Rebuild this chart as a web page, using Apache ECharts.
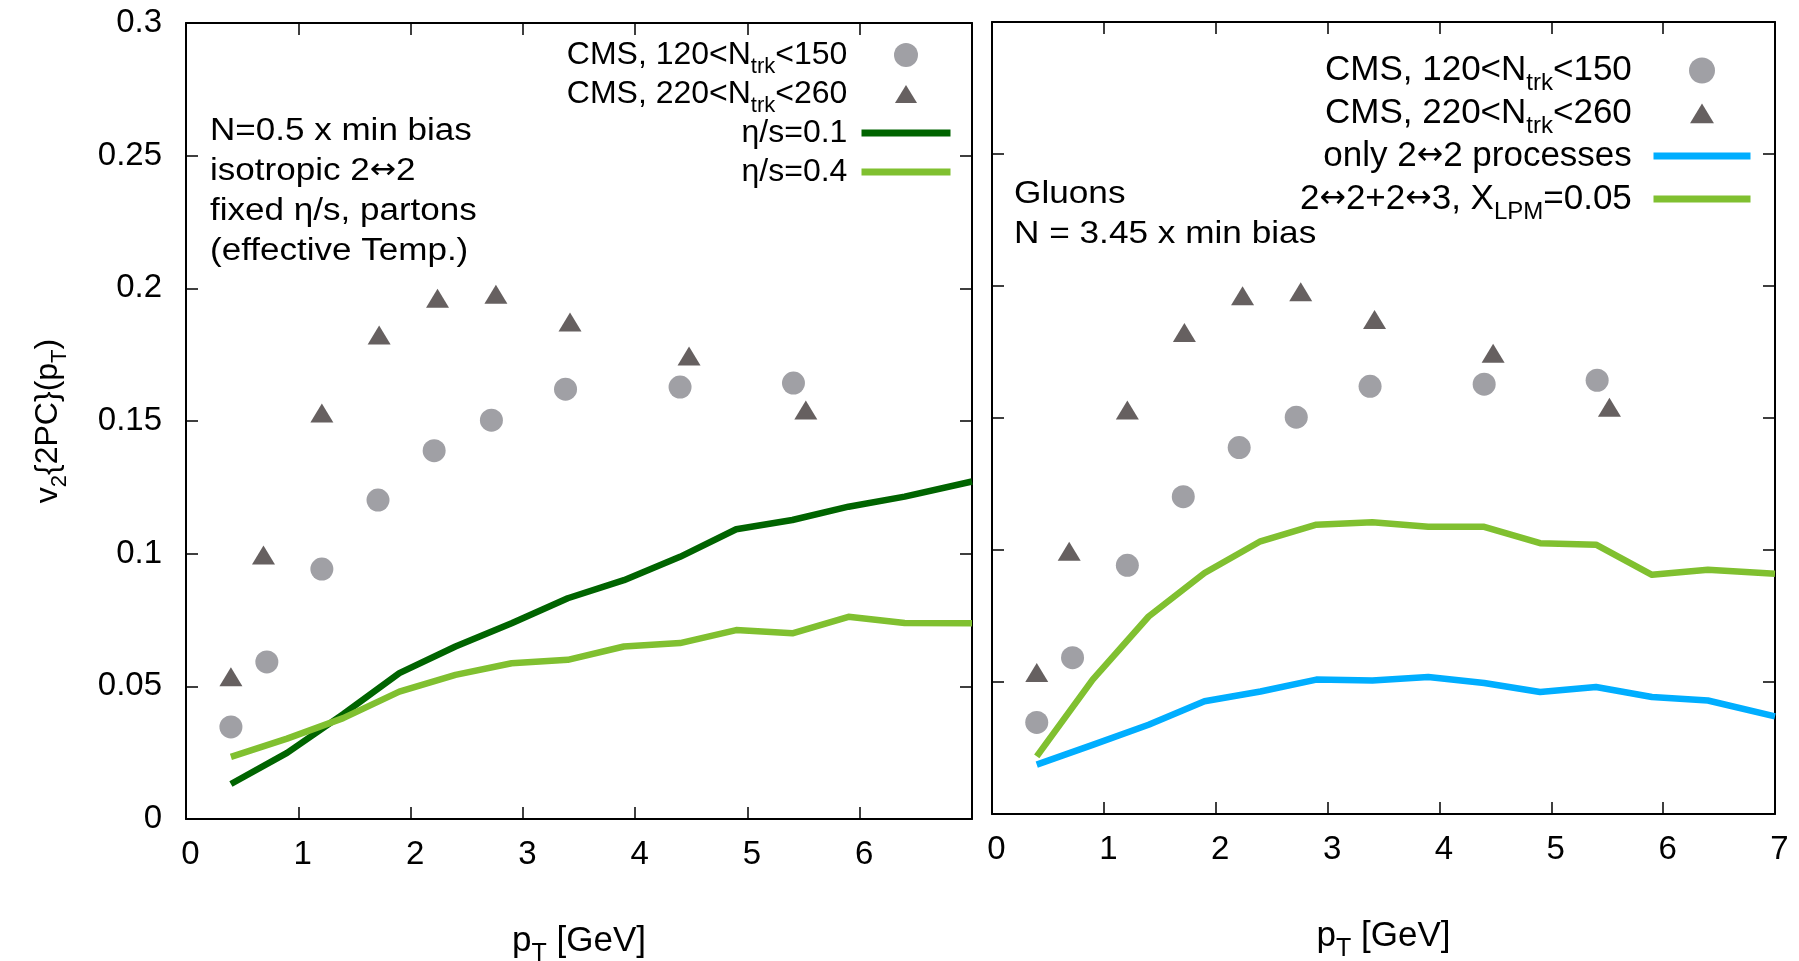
<!DOCTYPE html>
<html>
<head>
<meta charset="utf-8">
<title>v2{2PC}(pT)</title>
<script src="https://cdn.jsdelivr.net/npm/echarts@6/dist/echarts.min.js"></script>
<style>
  html, body { margin: 0; padding: 0; background: #fff; }
  #chart { width: 1799px; height: 961px; }
</style>
</head>
<body>
<div id="chart"></div>
<script>
// CMS data points (same in both panels)
const cmsLowPt = [0.40, 0.72, 1.21, 1.71, 2.21, 2.72, 3.38, 4.40, 5.41];
const cmsLowV2 = [0.0347, 0.0592, 0.0942, 0.1202, 0.1388, 0.1503, 0.1620, 0.1628, 0.1643];
const cmsHighPt = [0.40, 0.69, 1.21, 1.72, 2.24, 2.76, 3.42, 4.48, 5.52];
const cmsHighV2 = [0.0536, 0.0995, 0.1530, 0.1824, 0.1963, 0.1978, 0.1873, 0.1745, 0.1541];

// transport calculations, common pT grid
const modelPt = [0.4, 0.9, 1.4, 1.9, 2.4, 2.9, 3.4, 3.9, 4.4, 4.9, 5.4, 5.9, 6.4, 7.0];
// left panel: isotropic 2<->2, fixed eta/s
const etaS01 = [0.0132, 0.0249, 0.0395, 0.0550, 0.0650, 0.0738, 0.0832, 0.0900, 0.0988, 0.1092, 0.1127, 0.1177, 0.1215, 0.1272];
const etaS04 = [0.0234, 0.0303, 0.0380, 0.0480, 0.0543, 0.0587, 0.0600, 0.0650, 0.0663, 0.0712, 0.0700, 0.0762, 0.0739, 0.0738];
// right panel: gluons
const only22 = [0.0187, 0.0262, 0.0338, 0.0427, 0.0464, 0.0509, 0.0506, 0.0519, 0.0496, 0.0462, 0.0481, 0.0443, 0.0430, 0.0370];
const with23 = [0.0218, 0.0509, 0.0748, 0.0913, 0.1033, 0.1096, 0.1105, 0.1088, 0.1088, 0.1026, 0.1020, 0.0906, 0.0925, 0.0910];

// axis ticks
const xTicks = [0, 1, 2, 3, 4, 5, 6, 7];
const yTicks = [0, 0.05, 0.1, 0.15, 0.2, 0.25, 0.3];

// series names and their rich-text legend labels
const NAME_LOW = 'CMS, 120<Ntrk<150';
const NAME_HIGH = 'CMS, 220<Ntrk<260';
const NAME_E01 = 'η/s=0.1';
const NAME_E04 = 'η/s=0.4';
const NAME_22 = 'only 2↔2 processes';
const NAME_23 = '2↔2+2↔3, XLPM=0.05';
const legendLabels = {
  [NAME_LOW]: 'CMS, 120<N{s|trk}<150',
  [NAME_HIGH]: 'CMS, 220<N{s|trk}<260',
  [NAME_E01]: 'η/s=0.1',
  [NAME_E04]: 'η/s=0.4',
  [NAME_22]: 'only 2{a|↔}2 processes',
  [NAME_23]: '2{a|↔}2+2{a|↔}3, X{s|LPM}=0.05'
};

const FONT = '"Liberation Sans", Arial, Helvetica, sans-serif';
const ARROW_FONT = '"DejaVu Sans", sans-serif';
const C_LOW = '#a0a0a5';
const C_HIGH = '#666060';
const C_DARK = '#006400';
const C_LIGHT = '#80c030';
const C_BLUE = '#00aeff';
// triangle legend icon, padded so it keeps its marker size inside the icon box
const TRIANGLE_ICON = 'path://M0,0M12,3L23.5,22L0.5,22ZM24,25';

const pairs = (xs, ys) => xs.map((x, i) => [x, ys[i]]);

// subscript token: drawn lower inside a line of height lh
function subStyle(fs, lh, h) {
  return { fontFamily: FONT, fontSize: fs, lineHeight: lh, height: h, verticalAlign: 'bottom' };
}

const chart = echarts.init(document.getElementById('chart'), null, { renderer: 'canvas' });

const frameLine = { show: true, onZero: false, lineStyle: { color: '#000', width: 2 } };
const inTick = { show: true, inside: true, length: 12, lineStyle: { color: '#000', width: 1.5 } };
const tickLabel = { fontFamily: FONT, fontSize: 33, color: '#000' };

function xAxes(gridIndex, hideLast) {
  const base = { gridIndex, type: 'value', min: xTicks[0], max: xTicks[xTicks.length - 1], interval: 1, splitLine: { show: false }, axisLine: frameLine, axisTick: inTick };
  return [
    Object.assign({}, base, {
      position: 'bottom',
      axisLabel: Object.assign({}, tickLabel, { margin: 19, padding: [0, 0, 0, 9], showMinLabel: true, showMaxLabel: true,
        formatter: v => (hideLast && v === xTicks[xTicks.length - 1]) ? '' : String(v) }),
      name: 'p{s|T} [GeV]', nameLocation: 'middle', nameGap: 100,
      nameTextStyle: { fontFamily: FONT, fontSize: 35, color: '#000', lineHeight: 44,
        rich: { s: subStyle(25, 44, 17.4) } }
    }),
    Object.assign({}, base, { position: 'top', axisLabel: { show: false } })
  ];
}

function yAxes(gridIndex, withLabels) {
  const base = { gridIndex, type: 'value', min: yTicks[0], max: yTicks[yTicks.length - 1], interval: 0.05, splitLine: { show: false }, axisLine: frameLine, axisTick: inTick };
  const left = Object.assign({}, base, {
    position: 'left',
    axisLabel: withLabels ? Object.assign({}, tickLabel, { margin: 24, showMinLabel: true, showMaxLabel: true,
      formatter: v => String(+v.toFixed(2)) }) : { show: false }
  });
  if (withLabels) {
    Object.assign(left, {
      name: 'v{s|2}{2PC}(p{s|T})', nameLocation: 'middle', nameGap: 118,
      nameTextStyle: { fontFamily: FONT, fontSize: 32, color: '#000', lineHeight: 40,
        rich: { s: subStyle(22, 40, 15.6) } }
    });
  }
  return [left, Object.assign({}, base, { position: 'right', axisLabel: { show: false } })];
}

function legend(names, opts) {
  return {
    orient: 'vertical', align: 'right', right: opts.right, top: opts.top, padding: 0,
    itemWidth: opts.iw, itemHeight: opts.ih, itemGap: opts.gap, selectedMode: false,
    symbolKeepAspect: true,
    lineStyle: { width: 7 },
    data: names.map(n => {
      if (n === NAME_LOW) return { name: n, icon: 'circle' };
      if (n === NAME_HIGH) return { name: n, icon: TRIANGLE_ICON };
      return { name: n, itemStyle: { opacity: 0 }, lineStyle: { width: 7 } };
    }),
    // a trailing blank subscript token keeps every row the same height
    formatter: n => legendLabels[n] + '{s| }',
    textStyle: { fontFamily: FONT, fontSize: opts.fs, color: '#000', lineHeight: opts.lh, padding: [0, opts.pad, 0, 0],
      rich: {
        s: subStyle(opts.sub, opts.lh, opts.subH),
        a: { fontFamily: ARROW_FONT, fontSize: opts.fs * 0.9, lineHeight: opts.lh }
      } }
  };
}

function scatterPair(xi, yi) {
  return [
    { name: NAME_LOW, type: 'scatter', xAxisIndex: xi, yAxisIndex: yi, symbol: 'circle', symbolSize: 23,
      itemStyle: { color: C_LOW, opacity: 1 }, data: pairs(cmsLowPt, cmsLowV2), z: 3 },
    { name: NAME_HIGH, type: 'scatter', xAxisIndex: xi, yAxisIndex: yi, symbol: 'triangle', symbolSize: [23, 19],
      itemStyle: { color: C_HIGH, opacity: 1 }, data: pairs(cmsHighPt, cmsHighV2), z: 3 }
  ];
}

function curve(name, xi, yi, ys, color) {
  return { name, type: 'line', xAxisIndex: xi, yAxisIndex: yi, symbol: 'none', smooth: false, clip: true,
    lineStyle: { color, width: 6.5, cap: 'butt', join: 'round' }, itemStyle: { color },
    data: pairs(modelPt, ys), z: 2, animation: false };
}

function annotation(lines, x, y0, step, fs, sx) {
  return lines.map((t, i) => ({
    type: 'text', x, y: y0 + i * step, scaleX: sx, z: 10,
    style: { text: t, fontFamily: FONT, fontSize: fs, fill: '#000', verticalAlign: 'middle', align: 'left',
      rich: { a: { fontFamily: ARROW_FONT, fontSize: fs * 0.9 } } }
  }));
}

const option = {
  backgroundColor: '#fff',
  animation: false,
  grid: [
    { left: 186, top: 23, width: 786, height: 796, containLabel: false, outerBoundsMode: 'none' },
    { left: 992, top: 22, width: 783, height: 792, containLabel: false, outerBoundsMode: 'none' }
  ],
  xAxis: [...xAxes(0, true), ...xAxes(1, false)],
  yAxis: [...yAxes(0, true), ...yAxes(1, false)],
  legend: [
    legend([NAME_LOW, NAME_HIGH, NAME_E01, NAME_E04],
      { right: 845, top: 39, iw: 89, ih: 24, gap: 0, fs: 32, lh: 32, pad: 3, sub: 22, subH: 8 }),
    legend([NAME_LOW, NAME_HIGH, NAME_22, NAME_23],
      { right: 45, top: 53, iw: 97, ih: 26, gap: 0, fs: 35, lh: 35, pad: 10, sub: 24, subH: 8.4 })
  ],
  graphic: [
    ...annotation(['N=0.5 x min bias', 'isotropic 2{a|↔}2', 'fixed η/s, partons', '(effective Temp.)'], 210, 131, 40.2, 31, 1.13),
    ...annotation(['Gluons', 'N = 3.45 x min bias'], 1014, 194, 40.5, 32, 1.1)
  ],
  series: [
    curve(NAME_E01, 0, 0, etaS01, C_DARK),
    curve(NAME_E04, 0, 0, etaS04, C_LIGHT),
    ...scatterPair(0, 0),
    curve(NAME_22, 2, 2, only22, C_BLUE),
    curve(NAME_23, 2, 2, with23, C_LIGHT),
    ...scatterPair(2, 2)
  ]
};

chart.setOption(option);
</script>
</body>
</html>
